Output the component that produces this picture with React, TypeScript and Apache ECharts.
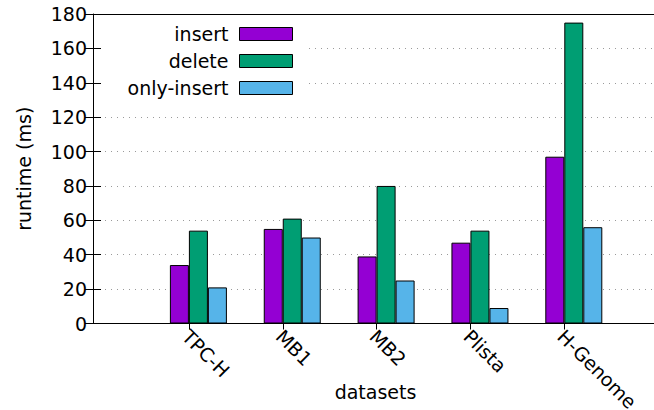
import React, { useEffect, useRef } from "react";
import * as echarts from "echarts";

const categories = ["TPC-H", "MB1", "MB2", "Plista", "H-Genome"];
const seriesNames = ["insert", "delete", "only-insert"];
const insertValues = [34, 55, 39, 47, 97];
const deleteValues = [54, 61, 80, 54, 175];
const onlyInsertValues = [21, 50, 25, 9, 56];
const yMin = 0;
const yMax = 180;
const yInterval = 20;
const colors = ["#9400d3", "#009e73", "#56b4e9"];

const FONT = "DejaVu Sans";
const FS = 19;

export default function App() {
  const ref = useRef<HTMLDivElement>(null);
  useEffect(() => {
    if (!ref.current) return;
    const chart = echarts.init(ref.current, undefined, { renderer: "svg" });
    const padded = ["", ...categories, ""];
    const pad = (arr: number[]) => [null, ...arr, null];
    const allValues = [insertValues, deleteValues, onlyInsertValues];

    const gridTop = 14;
    const gridH = 309.5;
    // frame
    const frameL = 93;
    const frameW = 565;
    // category positions
    const catL = 95.05;
    const catW = 563.1;
    const tickShow = (i: number) => i > 0 && i < padded.length - 1;

    const hiddenY = (gi: number) => ({
      type: "value" as const,
      gridIndex: gi,
      min: yMin,
      max: yMax,
      interval: yInterval,
      show: false,
    });

    const g = (left: number, width: number) => ({
      left,
      top: gridTop,
      width,
      height: gridH,
      containLabel: false,
      outerBoundsMode: "none",
    });

    const option: any = {
      animation: false,
      textStyle: { fontFamily: FONT },
      grid: [
        g(frameL, frameW),
        g(catL + 9.5, catW),
        g(catL - 3.3, catW),
        g(catL, catW),
      ],
      graphic: [
        {
          type: "rect",
          z: 1,
          silent: true,
          shape: { x: 101.5, y: 15, width: 203, height: 88 },
          style: { fill: "#ffffff" },
        },
      ],
      legend: {
        orient: "vertical",
        align: "right",
        right: 654 - 293,
        top: 24.5,
        padding: 0,
        itemWidth: 53,
        itemHeight: 13,
        itemGap: 8,
        icon: "rect",
        itemStyle: { borderColor: "#000", borderWidth: 1 },
        textStyle: {
          fontFamily: FONT,
          fontSize: FS,
          color: "#000",
          lineHeight: 18,
          padding: [0, 6, 0, 0],
        },
        data: seriesNames,
      },
      xAxis: [
        {
          type: "value",
          gridIndex: 0,
          position: "bottom",
          min: 0,
          max: 1,
          axisLine: { show: true, onZero: false, lineStyle: { color: "#000", width: 1 } },
          axisTick: { show: false },
          axisLabel: { show: false },
          splitLine: { show: false },
          name: "datasets",
          nameLocation: "middle",
          nameGap: 59,
          nameTextStyle: { fontFamily: FONT, fontSize: FS, color: "#000" },
        },
        {
          type: "value",
          gridIndex: 0,
          position: "top",
          min: 0,
          max: 1,
          axisLine: { show: true, onZero: false, lineStyle: { color: "#000", width: 1 } },
          axisTick: { show: false },
          axisLabel: { show: false },
          splitLine: { show: false },
        },
        {
          type: "category",
          gridIndex: 1,
          data: padded,
          boundaryGap: false,
          show: false,
        },
        {
          type: "category",
          gridIndex: 2,
          position: "bottom",
          data: padded,
          boundaryGap: false,
          axisLine: { show: false },
          axisTick: { show: false },
          splitLine: { show: false },
          axisLabel: {
            show: true,
            interval: 0,
            rotate: -45,
            margin: 9.5,
            hideOverlap: false,
            fontFamily: FONT,
            fontSize: FS,
            color: "#000",
          },
        },
        {
          type: "category",
          gridIndex: 3,
          position: "top",
          data: padded,
          boundaryGap: false,
          axisLine: { show: false },
          axisTick: {
            show: true,
            inside: true,
            length: 6,
            interval: (i: number) => tickShow(i),
            lineStyle: { color: "#000" },
          },
          axisLabel: { show: false },
          splitLine: { show: false },
        },
      ],
      yAxis: [
        {
          type: "value",
          gridIndex: 0,
          position: "left",
          min: yMin,
          max: yMax,
          interval: yInterval,
          axisLine: { show: true, lineStyle: { color: "#000", width: 1 } },
          axisTick: { show: true, inside: true, length: 8, lineStyle: { color: "#000" } },
          axisLabel: { fontFamily: FONT, fontSize: FS, color: "#000", margin: 6 },
          splitLine: { show: true, lineStyle: { type: [1, 5], color: "#9a9a9a", width: 1 } },
          name: "runtime (ms)",
          nameLocation: "middle",
          nameGap: 60,
          nameTextStyle: { fontFamily: FONT, fontSize: FS, color: "#000" },
        },
        {
          type: "value",
          gridIndex: 0,
          position: "right",
          min: yMin,
          max: yMax,
          interval: yInterval,
          axisLine: { show: false },
          axisTick: { show: true, inside: true, length: 8, lineStyle: { color: "#000" } },
          axisLabel: { show: false },
          splitLine: { show: false },
        },
        hiddenY(1),
        hiddenY(2),
        hiddenY(3),
      ],
      series: seriesNames.map((name, k) => ({
        name,
        type: "bar",
        xAxisIndex: 2,
        yAxisIndex: 2,
        data: pad(allValues[k]),
        barWidth: 19,
        barGap: "0%",
        itemStyle: { color: colors[k], borderColor: "#000", borderWidth: 1 },
      })),
    };
    chart.setOption(option);
    return () => chart.dispose();
  }, []);
  return (
    <div
      ref={ref}
      style={{ position: "fixed", left: 0, top: 0, width: 654, height: 410, background: "#fff" }}
    />
  );
}
